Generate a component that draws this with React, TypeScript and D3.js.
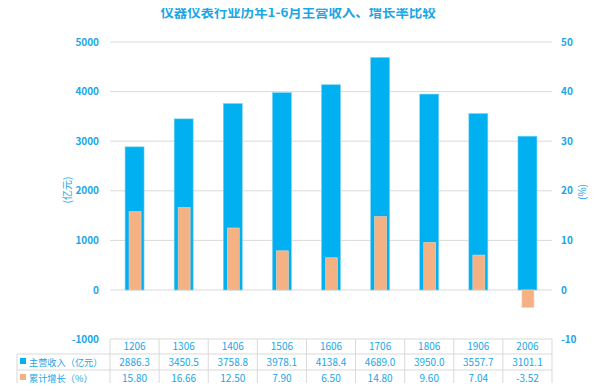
import React from "react";
import * as d3 from "d3";

const categories = ["1206", "1306", "1406", "1506", "1606", "1706", "1806", "1906", "2006"];
const revenue = [2886.3, 3450.5, 3758.8, 3978.1, 4138.4, 4689.0, 3950.0, 3557.7, 3101.1];
const growth = [15.8, 16.66, 12.5, 7.9, 6.5, 14.8, 9.6, 7.04, -3.52];
const revenueLabels = ["2886.3", "3450.5", "3758.8", "3978.1", "4138.4", "4689.0", "3950.0", "3557.7", "3101.1"];
const growthLabels = ["15.80", "16.66", "12.50", "7.90", "6.50", "14.80", "9.60", "7.04", "-3.52"];
const leftTicks = [-1000, 0, 1000, 2000, 3000, 4000, 5000];
const rightTicks = [-10, 0, 10, 20, 30, 40, 50];
const title = "仪器仪表行业历年1-6月主营收入、增长率比较";
const seriesNames = ["主营收入（亿元）", "累计增长（%）"];

const W = 596, H = 391;
const BLUE = "#00b0f0";
const ORANGE = "#f4b183";
const TXT = "#1ba6e6";
const GRID = "#d9d9d9";
const FONT = "'Noto Sans CJK SC', 'Noto Sans', sans-serif";

export default function App() {
  const x = d3.scaleBand<string>().domain(categories).range([110, 552]).padding(0);
  const yL = d3.scaleLinear().domain([-1000, 5000]).range([339.6, 42]);
  const yR = d3.scaleLinear().domain([-10, 50]).range([339.6, 42]);
  const bw = x.bandwidth();
  const blueW = 19, orangeW = 12;
  const rows = [339, 354, 370, 386];

  return (
    <div style={{ margin: -8, width: W, height: H, overflow: "hidden" }}>
      <svg width={W} height={H} style={{ display: "block", fontFamily: FONT }}>
        <rect width={W} height={H} fill="#fff" />
        <text x={298} y={17} textAnchor="middle" fontSize={13.4} fontWeight={700} fill={TXT}>{title}</text>
        {/* gridlines */}
        {leftTicks.filter((t) => t >= 0).map((t) => (
          <line key={t} x1={110} x2={552} y1={yL(t)} y2={yL(t)} stroke={GRID} strokeWidth={1} />
        ))}
        {/* left ticks */}
        {leftTicks.map((t) => (
          <text key={t} x={99} y={yL(t) + 3.5} textAnchor="end" fontSize={10} fontWeight={600} fill={TXT}>{t}</text>
        ))}
        {rightTicks.map((t) => (
          <text key={t} x={561} y={yR(t) + 3.5} textAnchor="start" fontSize={10} fontWeight={600} fill={TXT}>{t}</text>
        ))}
        <text transform={`translate(71,190) rotate(-90)`} textAnchor="middle" fontSize={10} fill={TXT}>(亿元)</text>
        <text transform={`translate(586,192) rotate(-90)`} textAnchor="middle" fontSize={10} fill={TXT}>(%)</text>
        {/* bars */}
        {categories.map((c, i) => {
          const cx = (x(c) as number) + bw / 2;
          return (
            <g key={c}>
              <rect x={cx - blueW / 2} y={yL(revenue[i])} width={blueW} height={yL(0) - yL(revenue[i])} fill={BLUE} stroke="#7fd3f5" strokeWidth={0.6} />
              <rect x={cx - orangeW / 2 + 0.5} y={Math.min(yR(growth[i]), yR(0))} width={orangeW} height={Math.abs(yR(0) - yR(growth[i]))} fill={ORANGE} stroke="#f8cfb0" strokeWidth={0.6} />
            </g>
          );
        })}
        {/* table */}
        <g stroke={GRID} strokeWidth={1} fill="none">
          <line x1={110} x2={552} y1={rows[0]} y2={rows[0]} />
          <line x1={17} x2={552} y1={rows[1]} y2={rows[1]} />
          <line x1={17} x2={552} y1={rows[2]} y2={rows[2]} />
          <line x1={17} x2={552} y1={rows[3]} y2={rows[3]} />
          <line x1={17} x2={17} y1={rows[1]} y2={rows[3]} />
          {categories.map((c) => (
            <line key={c} x1={x(c) as number} x2={x(c) as number} y1={rows[0]} y2={rows[3]} />
          ))}
          <line x1={552} x2={552} y1={rows[0]} y2={rows[3]} />
        </g>
        <line x1={0} x2={W} y1={389.5} y2={389.5} stroke="#e6e6e6" strokeWidth={1} />
        {categories.map((c, i) => {
          const cx = (x(c) as number) + bw / 2;
          return (
            <g key={c} fontSize={10} fill={TXT} textAnchor="middle">
              <text x={cx} y={rows[0] + 11}>{c}</text>
              <text x={cx} y={rows[1] + 11.5}>{revenueLabels[i]}</text>
              <text x={cx} y={rows[2] + 11.5}>{growthLabels[i]}</text>
            </g>
          );
        })}
        <rect x={20} y={358} width={6} height={6} fill={BLUE} />
        <text x={29} y={rows[1] + 11.5} fontSize={9.2} fill={TXT}>{seriesNames[0]}</text>
        <rect x={20} y={374} width={6} height={6} fill={ORANGE} />
        <text x={29} y={rows[2] + 11.5} fontSize={9.2} fill={TXT}>{seriesNames[1]}</text>
      </svg>
    </div>
  );
}
